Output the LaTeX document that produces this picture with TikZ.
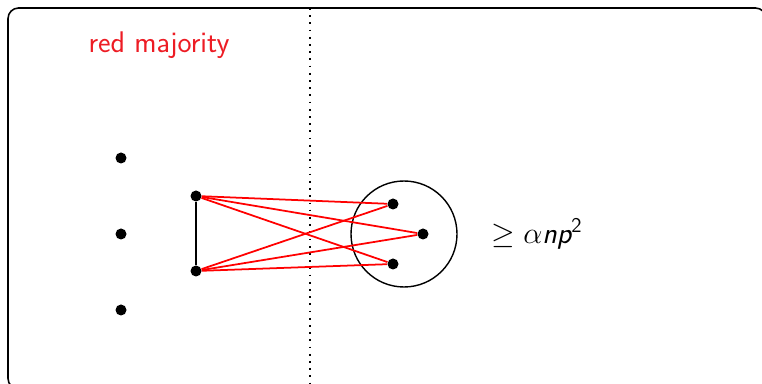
\documentclass[tikz,border=0pt]{standalone}
\usepackage{tikz}
\usetikzlibrary{positioning, calc}
\usepackage{amsmath, amssymb}
\definecolor{titlered}{RGB}{237, 28, 36}

\begin{document}
\begin{tikzpicture}[
  vtx/.style={circle, fill=black, inner sep=0pt, minimum size=0.22cm},
  redge/.style={red, line width=1pt},
  lbl/.style={font=\sffamily\fontsize{17}{20}\selectfont}
]
  \useasboundingbox (0,0) rectangle (15.24,7.68);
  \draw[line width=0.9pt, rounded corners=6pt] (0.16,-0.1) rectangle (15.32,7.52);
  % dotted separator
  \coordinate (septop) at (6.2,7.52);
  \coordinate (sepbot) at (6.2,0);
  \draw[dash pattern=on 1pt off 3.1pt, line width=1pt] (septop) -- (sepbot);

  \node[lbl, text=titlered] (title) at (3.18,6.78) {red majority};

  % left column
  \node[vtx] (l1) at (2.42,4.52) {};
  \node[vtx] (l2) at (2.42,3.0) {};
  \node[vtx] (l3) at (2.42,1.48) {};
  \node[vtx] (a) at (3.92,3.76) {};
  \node[vtx] (b) at (3.92,2.26) {};

  % cluster on the right
  \node[draw, circle, line width=0.8pt, minimum size=2.12cm] (blob) at (8.08,3.0) {};
  \node[vtx] (r1) at (7.86,3.6) {};
  \node[vtx] (r2) at (8.46,3.0) {};
  \node[vtx] (r3) at (7.86,2.4) {};
  \node[lbl, anchor=west] (cnt) at (9.7,3.0) {$\geq \alpha\textsf{\itshape np}^{\textsf{2}}$};

  \draw[line width=0.9pt] (a) -- (b);
  \foreach \s in {a,b}
    \foreach \t in {r1,r2,r3}
      \draw[redge] (\s) -- (\t);
\end{tikzpicture}
\end{document}
